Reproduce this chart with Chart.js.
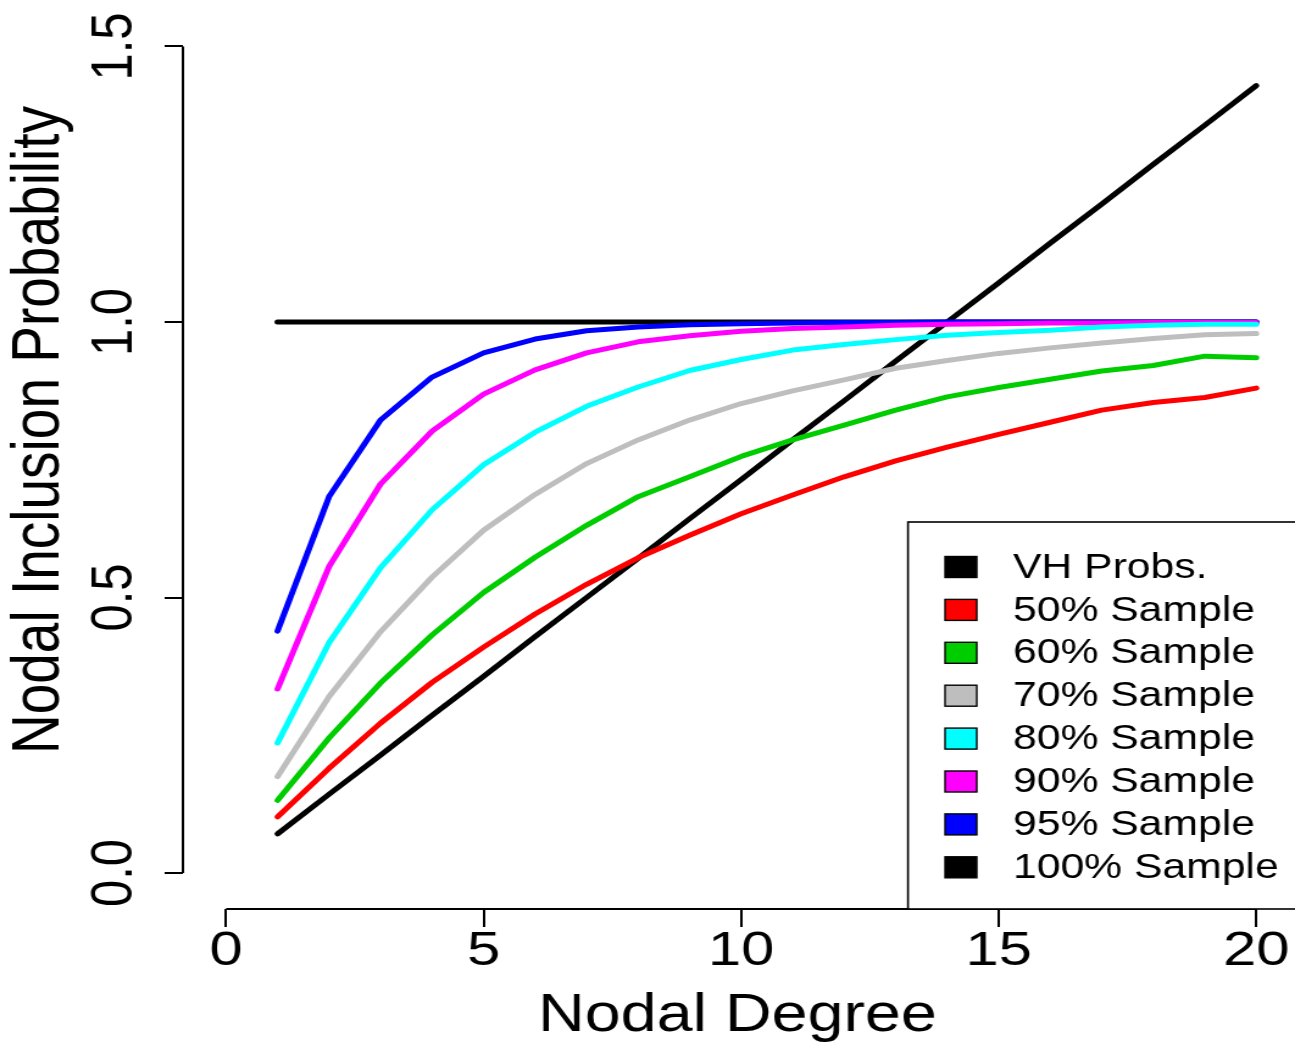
<!DOCTYPE html>
<html>
<head>
<meta charset="utf-8">
<script src="https://cdn.jsdelivr.net/npm/chart.js@4/dist/chart.umd.min.js"></script>
<style>
  html, body { margin: 0; padding: 0; background: #fff; overflow: hidden; }
  #wrap { position: absolute; left: 0; top: 0; width: 1062px; height: 1049px;
          transform: scaleX(1.21940); transform-origin: 0 0; }
</style>
</head>
<body>
<div id="wrap"><canvas id="c"></canvas></div>
<script>
// ---- data ----
const degrees = [1,2,3,4,5,6,7,8,9,10,11,12,13,14,15,16,17,18,19,20];
const vhProbs = [0.071,0.143,0.214,0.286,0.357,0.429,0.500,0.571,0.643,0.714,0.786,0.857,0.929,1.000,1.071,1.143,1.214,1.286,1.357,1.429];
const sample50 = [0.102,0.190,0.272,0.346,0.410,0.470,0.524,0.572,0.613,0.652,0.686,0.719,0.748,0.773,0.796,0.818,0.840,0.854,0.863,0.880];
const sample60 = [0.132,0.245,0.345,0.432,0.509,0.573,0.631,0.683,0.719,0.756,0.786,0.813,0.840,0.864,0.881,0.896,0.911,0.921,0.938,0.935];
const sample70 = [0.175,0.320,0.438,0.537,0.622,0.687,0.743,0.786,0.822,0.852,0.875,0.895,0.916,0.930,0.943,0.953,0.962,0.970,0.977,0.979];
const sample80 = [0.236,0.418,0.554,0.659,0.741,0.800,0.847,0.882,0.912,0.932,0.949,0.959,0.968,0.976,0.981,0.985,0.991,0.994,0.996,0.996];
const sample90 = [0.334,0.556,0.706,0.802,0.869,0.913,0.944,0.964,0.975,0.983,0.988,0.991,0.994,0.996,0.997,0.998,0.998,0.999,0.999,0.999];
const sample95 = [0.439,0.683,0.822,0.900,0.944,0.969,0.984,0.991,0.995,0.997,0.998,0.999,0.999,1.000,1.000,1.000,1.000,1.000,1.000,1.000];
const sample100 = [1,1,1,1,1,1,1,1,1,1,1,1,1,1,1,1,1,1,1,1];

const xTicks = [0,5,10,15,20];
const yTicks = [0.0,0.5,1.0,1.5];
const legendLabels = ['VH Probs.','50% Sample','60% Sample','70% Sample','80% Sample','90% Sample','95% Sample','100% Sample'];
const xTitle = 'Nodal Degree';
const yTitle = 'Nodal Inclusion Probability';

// ---- chart ----
const FONT = "'Liberation Sans', Arial, sans-serif";
Chart.defaults.color = '#000';
Chart.defaults.font.family = FONT;

function series(label, values, color) {
  return {
    label: label,
    data: degrees.map((d, i) => ({x: d, y: values[i]})),
    borderColor: color,
    backgroundColor: color,
    borderWidth: 5,
    pointRadius: 0,
    tension: 0,
    fill: false,
    borderCapStyle: 'round',
    borderJoinStyle: 'round'
  };
}

const datasets = [
  series('50% Sample', sample50, '#FF0000'),
  series('60% Sample', sample60, '#00CD00'),
  series('70% Sample', sample70, '#BEBEBE'),
  series('80% Sample', sample80, '#00FFFF'),
  series('90% Sample', sample90, '#FF00FF'),
  series('95% Sample', sample95, '#0000FF'),
  series('100% Sample', sample100, '#000000'),
  series('VH Probs.', vhProbs, '#000000')
];

const axesAndLegend = {
  id: 'axesAndLegend',
  beforeDraw(chart) {
    // centre the y-axis title as in the (cropped) original figure
    chart.scales.y.top = -49;
  },
  afterDraw(chart) {
    const ctx = chart.ctx;
    const xs = chart.scales.x, ys = chart.scales.y;
    const ca = chart.chartArea;
    ctx.save();
    ctx.strokeStyle = '#000';
    ctx.lineWidth = 2;
    ctx.lineCap = 'butt';
    // y axis line (from first to last tick)
    ctx.beginPath();
    ctx.moveTo(ca.left, ys.getPixelForValue(yTicks[0]));
    ctx.lineTo(ca.left, ys.getPixelForValue(yTicks[yTicks.length - 1]));
    ctx.stroke();
    // x axis line
    ctx.beginPath();
    ctx.moveTo(xs.getPixelForValue(xTicks[0]), ca.bottom);
    ctx.lineTo(xs.getPixelForValue(xTicks[xTicks.length - 1]), ca.bottom);
    ctx.stroke();

    // legend box
    const lx = 744.6, ly = 522, lb = ca.bottom;
    ctx.fillStyle = '#fff';
    ctx.fillRect(lx, ly, chart.width - lx + 20, lb - ly);
    ctx.lineWidth = 1.6;
    ctx.strokeRect(lx, ly, chart.width - lx + 20, lb - ly);
    ctx.font = '35px ' + FONT;
    ctx.textBaseline = 'middle';
    ctx.textAlign = 'left';
    legendLabels.forEach((lab, i) => {
      const ds = chart.data.datasets.find(d => d.label === lab);
      const cy = 567 + i * 42.9;
      ctx.fillStyle = ds.borderColor;
      ctx.fillRect(775, cy - 10.5, 26, 21);
      ctx.lineWidth = 1.4;
      ctx.strokeStyle = '#000';
      ctx.strokeRect(775, cy - 10.5, 26, 21);
      ctx.fillStyle = '#000';
      ctx.fillText(lab, 830.7, cy + 1);
    });
    ctx.restore();
  }
};

new Chart(document.getElementById('c'), {
  type: 'line',
  data: { datasets: datasets },
  options: {
    responsive: true,
    maintainAspectRatio: false,
    animation: false,
    events: [],
    layout: { padding: 0 },
    plugins: { legend: { display: false }, tooltip: { enabled: false } },
    scales: {
      x: {
        type: 'linear',
        min: -0.8368,
        max: 20.693,
        afterBuildTicks: (s) => { s.ticks = xTicks.map(v => ({value: v})); },
        afterFit: (s) => { s.height = 140; s.paddingLeft = 0; s.paddingRight = 0; },
        border: { display: false },
        grid: { display: true, drawOnChartArea: false, drawTicks: true, tickLength: 18, color: '#000', lineWidth: 2 },
        ticks: {
          autoSkip: false, maxRotation: 0, minRotation: 0, padding: 0,
          font: { size: 49, lineHeight: 1 },
          callback: (v) => String(v)
        },
        title: { display: true, text: xTitle, font: { size: 53, lineHeight: 1.2 }, padding: { top: 0, bottom: 1 } }
      },
      y: {
        type: 'linear',
        min: -0.0653,
        max: 1.5798,
        afterBuildTicks: (s) => { s.ticks = yTicks.map(v => ({value: v})); },
        afterFit: (s) => { s.width = 150; s.paddingTop = 0; s.paddingBottom = 0; },
        border: { display: false },
        grid: { display: true, drawOnChartArea: false, drawTicks: true, tickLength: 15, color: '#000', lineWidth: 2 },
        ticks: {
          autoSkip: false, minRotation: 90, maxRotation: 90, padding: 6, crossAlign: 'center',
          font: { size: 49, lineHeight: 1 },
          callback: (v) => Number(v).toFixed(1)
        },
        title: { display: true, text: yTitle, font: { size: 55, lineHeight: 1.2 }, padding: { top: 0, bottom: 0 } }
      }
    }
  },
  plugins: [axesAndLegend]
});
</script>
</body>
</html>
